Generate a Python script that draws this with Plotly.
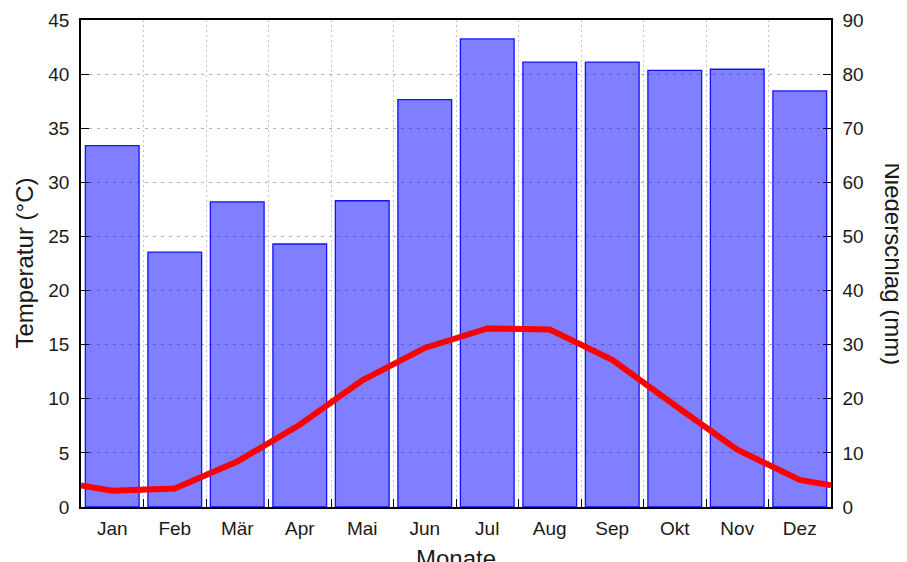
import plotly.graph_objects as go

months = ["Jan", "Feb", "Mär", "Apr", "Mai", "Jun", "Jul", "Aug", "Sep", "Okt", "Nov", "Dez"]
precip_mm = [66.8, 47.1, 56.4, 48.6, 56.6, 75.3, 86.5, 82.2, 82.2, 80.7, 80.9, 76.9]
temp_c = [1.5, 1.7, 4.2, 7.6, 11.7, 14.7, 16.5, 16.4, 13.6, 9.4, 5.3, 2.5]

centers = [i + 0.5 for i in range(len(months))]
# cyclic continuation to the plot edges (mean of Dec and Jan)
edge = (temp_c[0] + temp_c[-1]) / 2
line_x = [0] + centers + [len(months)]
line_y = [edge] + temp_c + [edge]

FONT = "Liberation Sans, Arial, Helvetica, sans-serif"
TXT = "#1a1a1a"

fig = go.Figure()
fig.add_bar(
    x=centers, y=precip_mm, width=0.86,
    marker=dict(color="rgba(0,0,255,0.5)", line=dict(color="rgba(0,0,255,0.9)", width=1.3)),
    xaxis="x", yaxis="y", hoverinfo="skip",
)
fig.add_scatter(
    x=line_x, y=line_y, mode="lines",
    line=dict(color="#ff0000", width=6),
    xaxis="x", yaxis="y2", hoverinfo="skip",
)

fig.update_layout(
    width=899, height=554,
    margin=dict(l=73, r=76, t=12, b=55, autoexpand=False),
    paper_bgcolor="white", plot_bgcolor="white",
    showlegend=False,
    font=dict(family=FONT, size=19, color=TXT),
    xaxis=dict(
        range=[0, 12], tickmode="array", tickvals=centers, ticktext=months,
        ticks="", showgrid=False, zeroline=False, automargin=False,
        showline=True, linecolor="black", linewidth=1.5, mirror=True,
        ticklabelstandoff=3,
        minor=dict(tickmode="array", tickvals=list(range(1, 12)), ticks="inside",
                   ticklen=8, tickcolor="black", tickwidth=1.2,
                   showgrid=True, gridcolor="#c4c4c4", griddash="2px,3px", gridwidth=1),
    ),
    yaxis=dict(
        side="right", range=[0, 90], tickmode="linear", tick0=0, dtick=10,
        ticks="inside", ticklen=8, tickcolor="black", tickwidth=1.2,
        showgrid=False, zeroline=False, automargin=False,
        showline=True, linecolor="black", linewidth=1.5,
        ticklabelstandoff=6,
    ),
    yaxis2=dict(
        overlaying="y", side="left", range=[0, 45], tickmode="linear", tick0=0, dtick=5,
        ticks="inside", ticklen=8, tickcolor="black", tickwidth=1.2,
        showgrid=True, gridcolor="#b0b0b0", griddash="3px,5px", gridwidth=1,
        zeroline=False, automargin=False, showline=True, linecolor="black", linewidth=1.5,
        ticklabelstandoff=6,
    ),
    annotations=[
        dict(text="Temperatur (°C)", xref="paper", yref="paper", x=-0.076, y=0.5,
             textangle=-90, showarrow=False, font=dict(size=24, family=FONT, color=TXT),
             xanchor="center", yanchor="middle"),
        dict(text="Niederschlag (mm)", xref="paper", yref="paper", x=1.0827, y=0.5,
             textangle=90, showarrow=False, font=dict(size=24, family=FONT, color=TXT),
             xanchor="center", yanchor="middle"),
        dict(text="Monate", xref="paper", yref="paper", x=0.5, y=-0.074,
             showarrow=False, font=dict(size=24, family=FONT, color=TXT),
             xanchor="center", yanchor="top"),
    ],
)

fig.write_html("out.html")
